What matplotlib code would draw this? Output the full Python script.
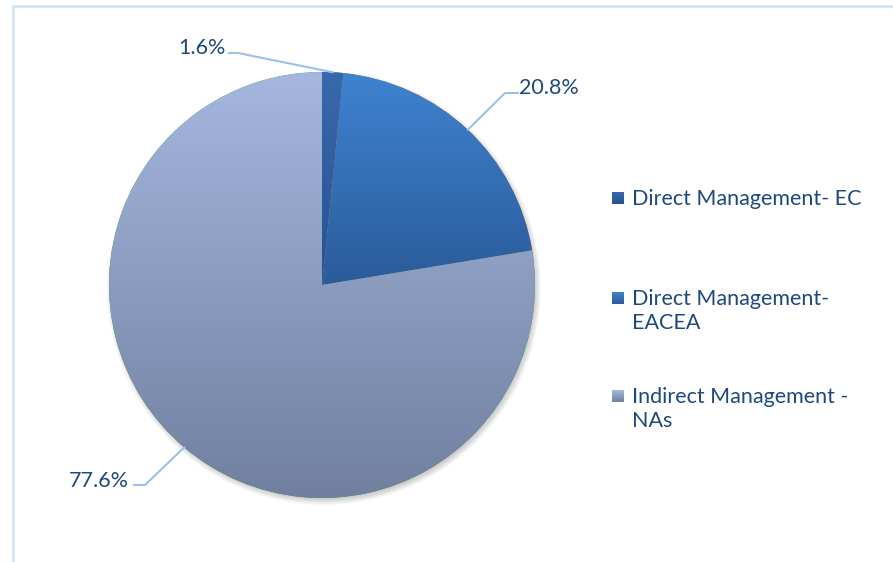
import numpy as np
import matplotlib
matplotlib.use('Agg')
import matplotlib.pyplot as plt
from matplotlib.colors import LinearSegmentedColormap
from matplotlib.patches import Circle, Rectangle

labels = ['Direct Management- EC', 'Direct Management-\nEACEA', 'Indirect Management -\nNAs']
shares = [1.6, 20.8, 77.6]
pct_text = ['1.6%', '20.8%', '77.6%']
# gradient colours for each slice (top, bottom)
grad_top = ['#3869ad', '#3e83d0', '#a5b7df']
grad_bot = ['#285290', '#2b5b9a', '#71809f']

W, H = 893, 562
fig = plt.figure(figsize=(W / 100, H / 100), dpi=100)
ax = fig.add_axes([0, 0, 1, 1])

txtcol = '#1f497d'
linecol = '#9dc0e8'
plt.rcParams['font.family'] = ['Lato', 'DejaVu Sans']
fs = 15.5

# chart frame (only top and left visible)
ax.plot([13, 13, W], [0, H - 6, H - 6], color='#d6e3f4', lw=2, solid_capstyle='butt')

cx, cy, R = 322, H - 285, 213

# soft shadow
for i in range(8):
    ax.add_patch(Circle((cx + 2, cy - 3), R + 4 - i * 0.8, color='black', alpha=0.025, lw=0, zorder=1))

wedges, _ = ax.pie(shares, center=(cx, cy), radius=R, startangle=90, counterclock=False,
                   wedgeprops=dict(linewidth=0, edgecolor='none'), frame=True)

grad = np.linspace(0, 1, 256).reshape(-1, 1)
for w, ct, cb in zip(wedges, grad_top, grad_bot):
    w.set_zorder(2)
    bb = w.get_path().get_extents()
    cmap = LinearSegmentedColormap.from_list('g', [cb, ct])
    im = ax.imshow(grad, cmap=cmap, origin='lower', aspect='auto',
                   extent=(bb.x0, bb.x1, bb.y0, bb.y1), zorder=3, interpolation='bilinear')
    im.set_clip_path(w)

# data labels with leader lines
label_pos = [(226, H - 48, 'right'), (519, H - 88, 'left'), (129, H - 481, 'right')]
elbows = [[(229, H - 53), (238, H - 53)], [(518, H - 93), (505, H - 93)], [(134, H - 485), (145, H - 485)]]
start = 90
for s, t, (lx, ly, ha), el in zip(shares, pct_text, label_pos, elbows):
    mid = np.deg2rad(start - s * 3.6 / 2)
    start -= s * 3.6
    px, py = cx + R * np.cos(mid), cy + R * np.sin(mid)
    xs = [el[0][0], el[1][0], px]
    ys = [el[0][1], el[1][1], py]
    ax.plot(xs, ys, color=linecol, lw=1.5, zorder=4)
    ax.text(lx, ly, t, ha=ha, va='center', fontsize=fs, color=txtcol)

# legend
leg_y = [H - 198, H - 298, H - 396]
for lab, ct, cb, y in zip(labels, grad_top, grad_bot, leg_y):
    cmap = LinearSegmentedColormap.from_list('g', [cb, ct])
    ax.imshow(grad, cmap=cmap, origin='lower', aspect='auto',
              extent=(612, 624, y - 6, y + 6), zorder=3, interpolation='bilinear')
    ax.text(632, y + 9, lab, ha='left', va='top', fontsize=fs, color=txtcol, linespacing=1.25)

ax.set_xlim(0, W)
ax.set_ylim(0, H)
ax.set_aspect('auto')
ax.axis('off')

fig.savefig('out.png', dpi=100)
